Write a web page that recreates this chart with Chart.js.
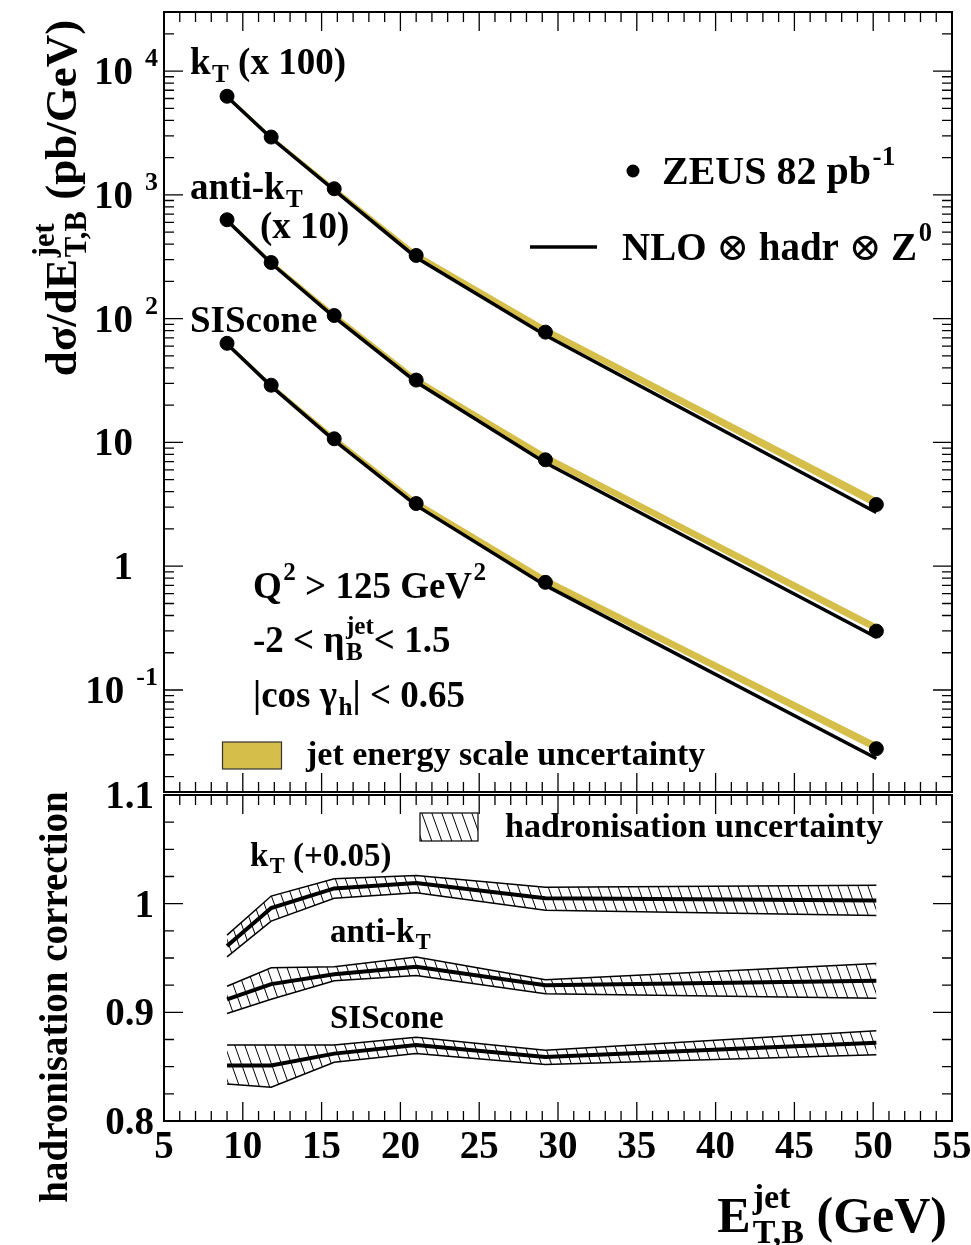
<!DOCTYPE html>
<html>
<head>
<meta charset="utf-8">
<script src="https://cdn.jsdelivr.net/npm/chart.js@4.4.1/dist/chart.umd.min.js"></script>
<style>
  html, body { margin: 0; padding: 0; background: #fff; }
  #wrap { position: relative; width: 971px; height: 1245px; overflow: hidden; }
  #top { position: absolute; left: 0; top: 0; }
  #bot { position: absolute; left: 0; top: 780px; }
</style>
</head>
<body>
<div id="wrap">
  <canvas id="top" width="971" height="800" style="width:971px;height:800px"></canvas>
  <canvas id="bot" width="971" height="465" style="width:971px;height:465px"></canvas>
</div>
<script>
// ---- data ----
const etBins = [9.0, 11.8, 15.8, 21.0, 29.2, 50.2];

// cross sections (kT x100, anti-kT x10, SIScone x1), pb/GeV
const ktData      = [6260, 2930, 1120, 324, 77.8, 3.15];
const antiktData  = [629, 284, 106, 31.9, 7.24, 0.299];
const sisconeData = [63.2, 29.0, 10.7, 3.21, 0.741, 0.0336];

// NLO x hadr x Z0 predictions
const ktNlo      = [6200, 2880, 1090, 312, 73.5, 2.72];
const antiktNlo  = [620, 280, 103, 30.8, 6.85, 0.267];
const sisconeNlo = [62.5, 28.5, 10.4, 3.10, 0.70, 0.0280];

// jet energy scale uncertainty band (low / high edge)
const ktJesLo      = [6150, 2870, 1090, 316, 76.0, 3.00];
const ktJesHi      = [6500, 3030, 1170, 345, 86.0, 3.55];
const antiktJesLo  = [615, 280, 104, 31.2, 7.10, 0.293];
const antiktJesHi  = [650, 296, 112, 34.0, 8.10, 0.340];
const sisconeJesLo = [62.0, 28.4, 10.5, 3.15, 0.72, 0.032];
const sisconeJesHi = [65.5, 30.0, 11.3, 3.45, 0.82, 0.0375];

// hadronisation corrections (kT shifted by +0.05)
const ktHad         = [0.961, 0.996, 1.014, 1.019, 1.005, 1.003];
const ktHadHi       = [0.971, 1.007, 1.023, 1.026, 1.015, 1.017];
const ktHadLo       = [0.951, 0.984, 1.005, 1.010, 0.994, 0.989];
const antiktHad     = [0.912, 0.926, 0.935, 0.942, 0.925, 0.929];
const antiktHadHi   = [0.924, 0.941, 0.942, 0.951, 0.930, 0.945];
const antiktHadLo   = [0.899, 0.912, 0.929, 0.934, 0.917, 0.913];
const sisconeHad    = [0.851, 0.851, 0.862, 0.870, 0.859, 0.872];
const sisconeHadHi  = [0.870, 0.870, 0.870, 0.877, 0.865, 0.883];
const sisconeHadLo  = [0.834, 0.831, 0.854, 0.862, 0.852, 0.861];

// axes
const xMin = 5, xMax = 55;
const xTickLabels = [5, 10, 15, 20, 25, 30, 35, 40, 45, 50, 55];
const sigmaMin = 0.015, sigmaMax = 30000;
const sigmaTickValues = [0.1, 1, 10, 100, 1000, 10000];
const sigmaTickBase   = ['10', '1', '10', '10', '10', '10'];
const sigmaTickExp    = ['-1', '', '', '2', '3', '4'];
const hadMin = 0.8, hadMax = 1.1;
const hadTickValues = [0.8, 0.9, 1.0, 1.1];
const hadTickLabels = ['0.8', '0.9', '1', '1.1'];

// ---- helpers ----
const FONT = '"Liberation Serif", "Times New Roman", "DejaVu Serif", serif';
const YELLOW = '#d5be4a';
function setFont(ctx, size, weight = 'bold') { ctx.font = `${weight} ${size}px ${FONT}`; }
const pts = arr => etBins.map((x, i) => ({ x, y: arr[i] }));

// parts: strings or {t, sup, sub, w}
function drawRich(ctx, x, y, parts, size, align = 'left') {
  const small = size * 0.68;
  const items = parts.map(p => typeof p === 'string' ? { t: p } : p);
  const widths = items.map(it => {
    setFont(ctx, size, it.w);
    const a = it.t ? ctx.measureText(it.t).width : 0;
    setFont(ctx, small);
    const b = Math.max(it.sup ? ctx.measureText(it.sup).width : 0, it.sub ? ctx.measureText(it.sub).width : 0);
    return a + b + (it.sup || it.sub ? size * 0.04 : 0);
  });
  const total = widths.reduce((s, w) => s + w, 0);
  let cx = align === 'right' ? x - total : align === 'center' ? x - total / 2 : x;
  ctx.textAlign = 'left';
  ctx.textBaseline = 'alphabetic';
  ctx.fillStyle = '#000';
  items.forEach((it, i) => {
    let a = 0;
    if (it.t) { setFont(ctx, size, it.w); ctx.fillText(it.t, cx, y); a = ctx.measureText(it.t).width; }
    setFont(ctx, small);
    if (it.sup) ctx.fillText(it.sup, cx + a + size * 0.04, y - size * 0.48);
    if (it.sub) ctx.fillText(it.sub, cx + a + size * 0.04, y + size * 0.22);
    cx += widths[i];
  });
  return total;
}

function hatchPattern(ctx) {
  const c = document.createElement('canvas');
  c.width = 10; c.height = 28;
  const g = c.getContext('2d');
  g.strokeStyle = '#000';
  g.lineWidth = 1;
  for (const dx of [-10, 0, 10]) {
    g.beginPath(); g.moveTo(dx, 0); g.lineTo(dx + 10, 28); g.stroke();
  }
  return ctx.createPattern(c, 'repeat');
}

function xTicks(ctx, x, a) {
  ctx.beginPath();
  for (let v = xMin; v <= xMax; v++) {
    const px = x.getPixelForValue(v);
    const len = v % 5 === 0 ? 19 : 10;
    ctx.moveTo(px, a.top); ctx.lineTo(px, a.top + len);
    ctx.moveTo(px, a.bottom); ctx.lineTo(px, a.bottom - len);
  }
  ctx.stroke();
}

// ---- top panel ----
const topDecor = {
  id: 'topDecor',
  afterDraw(chart) {
    const { ctx, chartArea: a, scales: { x, y } } = chart;
    ctx.save();
    ctx.strokeStyle = '#000';
    ctx.lineWidth = 1.3;
    xTicks(ctx, x, a);
    ctx.beginPath();
    for (let d = -2; d <= 4; d++) {
      for (let m = 1; m <= 9; m++) {
        const v = m * Math.pow(10, d);
        if (v < sigmaMin || v > sigmaMax) continue;
        const py = y.getPixelForValue(v);
        const len = m === 1 ? 19 : 10;
        ctx.moveTo(a.left, py); ctx.lineTo(a.left + len, py);
        ctx.moveTo(a.right, py); ctx.lineTo(a.right - len, py);
      }
    }
    ctx.stroke();
    ctx.lineWidth = 2;
    ctx.strokeRect(a.left, a.top, a.right - a.left, a.bottom - a.top);

    // tick labels
    ctx.fillStyle = '#000';
    sigmaTickValues.forEach((v, i) => {
      const py = y.getPixelForValue(v);
      ctx.textAlign = 'right';
      if (sigmaTickExp[i]) {
        setFont(ctx, 26);
        ctx.fillText(sigmaTickExp[i], 158, py - 5);
        const w = ctx.measureText(sigmaTickExp[i]).width;
        setFont(ctx, 39);
        ctx.fillText(sigmaTickBase[i], 158 - w - 12, py + 13);
      } else {
        setFont(ctx, 39);
        ctx.fillText(sigmaTickBase[i], 133, py + 13);
      }
    });

    // axis title
    ctx.save();
    ctx.translate(76, 198);
    ctx.rotate(-Math.PI / 2);
    drawRich(ctx, 0, 0, ['dσ/d', { t: 'E', sup: 'jet', sub: 'T,B' }, ' (pb/GeV)'], 45, 'center');
    ctx.restore();

    // annotations
    drawRich(ctx, 190, 74, [{ t: 'k', sub: 'T' }, ' (x 100)'], 37);
    drawRich(ctx, 190, 199, ['anti-', { t: 'k', sub: 'T' }], 37);
    drawRich(ctx, 260, 238, ['(x 10)'], 37);
    drawRich(ctx, 190, 332, ['SIScone'], 37);

    ctx.fillStyle = '#000';
    ctx.beginPath(); ctx.arc(633, 171, 6.5, 0, Math.PI * 2); ctx.fill();
    drawRich(ctx, 662, 184, [{ t: 'ZEUS 82 pb', sup: '-1' }], 40);
    ctx.lineWidth = 3.5;
    ctx.beginPath(); ctx.moveTo(530, 247); ctx.lineTo(597, 247); ctx.stroke();
    drawRich(ctx, 622, 260, ['NLO ', { t: '⊗', w: 'normal' }, ' hadr ', { t: '⊗', w: 'normal' }, ' ', { t: 'Z', sup: '0' }], 39);

    drawRich(ctx, 253, 598, [{ t: 'Q', sup: '2' }, ' > 125 ', { t: 'GeV', sup: '2' }], 37);
    drawRich(ctx, 253, 652, ['-2 < ', { t: 'η', sup: 'jet', sub: 'B' }, '< 1.5'], 37);
    drawRich(ctx, 253, 707, ['|cos ', { t: 'γ', sub: 'h' }, '| < 0.65'], 37);

    ctx.fillStyle = YELLOW;
    ctx.fillRect(222.5, 742, 59, 27);
    ctx.lineWidth = 1.2;
    ctx.strokeStyle = '#333';
    ctx.strokeRect(222.5, 742, 59, 27);
    drawRich(ctx, 306, 765, ['jet energy scale uncertainty'], 34);
    ctx.restore();
  }
};

const topSets = [];
[[ktData, ktNlo, ktJesLo, ktJesHi], [antiktData, antiktNlo, antiktJesLo, antiktJesHi],
 [sisconeData, sisconeNlo, sisconeJesLo, sisconeJesHi]].forEach(([d, nlo, lo, hi]) => {
  const i = topSets.length;
  topSets.push({ data: pts(hi), borderWidth: 0, pointRadius: 0, backgroundColor: YELLOW, fill: i + 1, order: 3 });
  topSets.push({ data: pts(lo), borderWidth: 0, pointRadius: 0, fill: false, order: 3 });
  topSets.push({ data: pts(nlo), borderColor: '#000', borderWidth: 3.5, pointRadius: 0, fill: false, order: 2 });
  topSets.push({ data: pts(d), showLine: false, pointRadius: 7, pointBackgroundColor: '#000', pointBorderColor: '#000', order: 1 });
});

new Chart(document.getElementById('top'), {
  type: 'line',
  data: { datasets: topSets },
  options: {
    responsive: false,
    animation: false,
    events: [],
    layout: { padding: { left: 164, top: 12, right: 19, bottom: 5 } },
    plugins: { legend: { display: false }, tooltip: { enabled: false } },
    elements: { line: { tension: 0 } },
    scales: {
      x: { type: 'linear', min: xMin, max: xMax, display: false },
      y: { type: 'logarithmic', min: sigmaMin, max: sigmaMax, display: false }
    }
  },
  plugins: [topDecor]
});

// ---- bottom panel ----
const botCanvas = document.getElementById('bot');
const HATCH = hatchPattern(botCanvas.getContext('2d'));

const botDecor = {
  id: 'botDecor',
  afterDraw(chart) {
    const { ctx, chartArea: a, scales: { x, y } } = chart;
    ctx.save();
    ctx.strokeStyle = '#000';
    ctx.lineWidth = 1.3;
    xTicks(ctx, x, a);
    ctx.beginPath();
    for (let k = 0; k <= 12; k++) {
      const v = hadMin + k * 0.025;
      const py = y.getPixelForValue(v);
      const len = k % 4 === 0 ? 19 : 10;
      ctx.moveTo(a.left, py); ctx.lineTo(a.left + len, py);
      ctx.moveTo(a.right, py); ctx.lineTo(a.right - len, py);
    }
    ctx.stroke();
    ctx.lineWidth = 2;
    ctx.strokeRect(a.left, a.top, a.right - a.left, a.bottom - a.top);

    setFont(ctx, 39);
    ctx.fillStyle = '#000';
    ctx.textAlign = 'right';
    hadTickValues.forEach((v, i) => ctx.fillText(hadTickLabels[i], 154, y.getPixelForValue(v) + 13));
    ctx.textAlign = 'center';
    xTickLabels.forEach(v => ctx.fillText(String(v), x.getPixelForValue(v), a.bottom + 37));

    drawRich(ctx, 947, 452, [{ t: 'E', sup: 'jet', sub: 'T,B' }, ' (GeV)'], 50, 'right');

    ctx.save();
    ctx.translate(67, 217);
    ctx.rotate(-Math.PI / 2);
    drawRich(ctx, 0, 0, ['hadronisation correction'], 39, 'center');
    ctx.restore();

    // legend
    ctx.fillStyle = HATCH;
    ctx.fillRect(420, 33, 58, 28);
    ctx.lineWidth = 1.2;
    ctx.strokeRect(420, 33, 58, 28);
    drawRich(ctx, 505, 57, ['hadronisation uncertainty'], 34);
    drawRich(ctx, 250, 86, [{ t: 'k', sub: 'T' }, ' (+0.05)'], 33);
    drawRich(ctx, 330, 162, ['anti-', { t: 'k', sub: 'T' }], 33);
    drawRich(ctx, 330, 248, ['SIScone'], 33);
    ctx.restore();
  }
};

const botSets = [];
[[ktHad, ktHadLo, ktHadHi], [antiktHad, antiktHadLo, antiktHadHi], [sisconeHad, sisconeHadLo, sisconeHadHi]]
  .forEach(([c, lo, hi]) => {
    const i = botSets.length;
    botSets.push({ data: pts(hi), borderColor: '#000', borderWidth: 1.5, pointRadius: 0, backgroundColor: HATCH, fill: i + 1, order: 2 });
    botSets.push({ data: pts(lo), borderColor: '#000', borderWidth: 1.5, pointRadius: 0, fill: false, order: 2 });
    botSets.push({ data: pts(c), borderColor: '#000', borderWidth: 4, pointRadius: 0, fill: false, order: 1 });
  });

new Chart(botCanvas, {
  type: 'line',
  data: { datasets: botSets },
  options: {
    responsive: false,
    animation: false,
    events: [],
    layout: { padding: { left: 164, top: 15, right: 19, bottom: 124 } },
    plugins: { legend: { display: false }, tooltip: { enabled: false } },
    elements: { line: { tension: 0 } },
    scales: {
      x: { type: 'linear', min: xMin, max: xMax, display: false },
      y: { type: 'linear', min: hadMin, max: hadMax, display: false }
    }
  },
  plugins: [botDecor]
});
</script>
</body>
</html>
